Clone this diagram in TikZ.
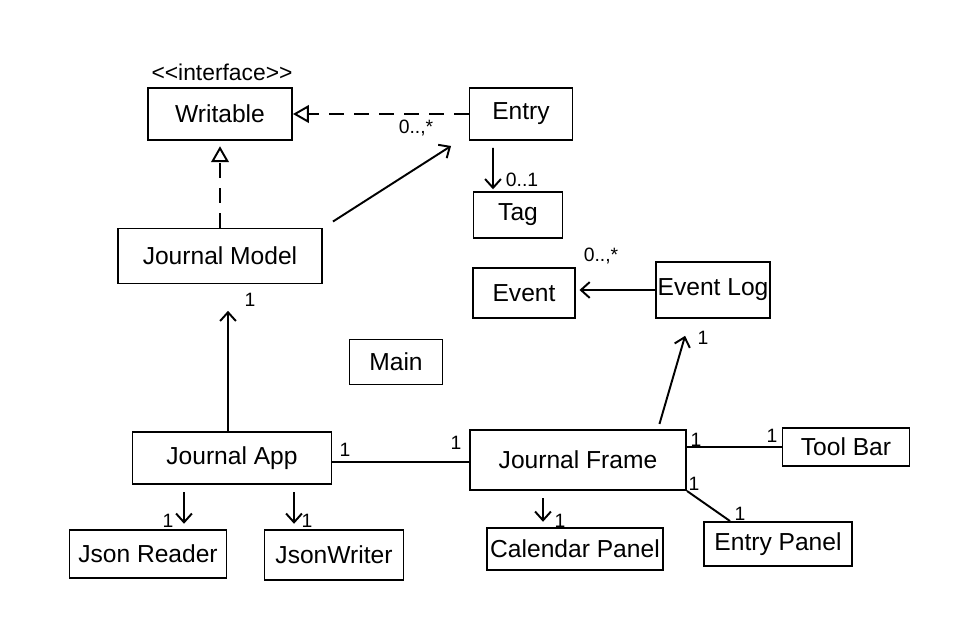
\documentclass[tikz,border=0pt]{standalone}
\usepackage{fontspec}
\setmainfont{Liberation Sans}
\usetikzlibrary{arrows.meta}
\tikzset{
	box/.style 2 args={draw, line width=1.1pt, inner sep=0pt,
		minimum width=#1*0.02cm, minimum height=#2*0.02cm,
		font=\fontsize{14}{17}\selectfont},
	assoc/.style={line width=1.1pt, -{Straight Barb[length=5pt,width=9pt]}},
	link/.style={line width=1.1pt},
	real/.style={line width=1.1pt, dash pattern=on 0.3cm off 0.2cm,
		-{Triangle[open,length=9pt,width=10pt]}},
	mult/.style={inner sep=0pt, font=\fontsize{11}{13}\selectfont}
}

\begin{document}
\begin{tikzpicture}[x=0.02cm,y=-0.02cm]
	\useasboundingbox[fill=white] (0,0) rectangle (963,619);
	% classes
	\node[box={144}{52}] (writable) at (220,114) {Writable};
	\node[inner sep=0pt, font=\fontsize{13}{15}\selectfont] (stereo) at (222,72) {<\kern0pt<interface>\kern0pt>};
	\node[box={103}{52}] (entry) at (521,114) {Entry};
	\node[box={89}{46}] (tag) at (518,215) {Tag};
	\node[box={204}{55}] (jmodel) at (220,256) {Journal Model};
	\node[box={102}{50}] (event) at (524,293) {Event};
	\node[box={114}{56}] (eventlog) at (713,290) {Event Log};
	\node[box={93}{45}] (main) at (396,362) {Main};
	\node[box={199}{52}] (japp) at (232,458) {Journal App};
	\node[box={216}{60}] (jframe) at (578,460) {Journal Frame};
	\node[box={127}{38}] (toolbar) at (846,447) {Tool Bar};
	\node[box={157}{48}] (jreader) at (148,554) {Json Reader};
	\node[box={139}{50}] (jwriter) at (334,555) {JsonWriter};
	\node[box={176}{42}] (calpanel) at (575,549) {Calendar Panel};
	\node[box={148}{44}] (entrypanel) at (778,544) {Entry Panel};
	% realization
	\draw[real] (entry.west) -- (writable.east);
	\draw[real, shorten >=3pt] (jmodel.north) -- (writable.south);
	% associations
	\draw[assoc] ([xshift=0.2cm,yshift=0.12cm]jmodel.north east) -- ([xshift=-0.35cm,yshift=-0.1cm]entry.south west);
	\draw[assoc, shorten <=4pt, shorten >=1pt] ([xshift=-0.56cm]entry.south) -- ([xshift=-0.5cm]tag.north);
	\draw[assoc, shorten >=2pt] (eventlog.west) -- (eventlog.west -| event.east);
	\draw[assoc, shorten <=3pt, shorten >=10pt] ([xshift=1.6cm]jframe.north) -- ([xshift=-0.46cm]eventlog.south);
	\draw[assoc, shorten >=15pt] ([xshift=-0.08cm]japp.north) -- ([xshift=0.16cm]jmodel.south);
	\draw[link] ([yshift=-0.08cm]japp.east) -- ([yshift=-0.08cm]japp.east -| jframe.west);
	\draw[link] (toolbar.west -| jframe.east) -- (toolbar.west);
	\draw[link] (jframe.south east) -- ([xshift=-0.96cm]entrypanel.north);
	\draw[assoc, shorten <=4pt, shorten >=3pt] ([xshift=-0.7cm]jframe.south) -- ([xshift=-0.64cm]calpanel.north);
	\draw[assoc, shorten <=4pt, shorten >=3pt] ([xshift=-0.96cm]japp.south) -- ([xshift=0.72cm]jreader.north);
	\draw[assoc, shorten <=4pt, shorten >=3pt] ([xshift=1.24cm]japp.south) -- ([xshift=-0.8cm]jwriter.north);
	% multiplicities
	\node[mult] (m-entry) at (416,128) {0..,*};
	\node[mult] (m-tag) at (522,180) {0..1};
	\node[mult] (m-event) at (601,256) {0..,*};
	\node[mult] (m-elog) at (703,338) {1};
	\node[mult] (m-jmodel) at (250,300) {1};
	\node[mult] (m-app1) at (345,450) {1};
	\node[mult] (m-frame1) at (456,443) {1};
	\node[mult] (m-frame2) at (696,440) {1};
	\node[mult] (m-tool) at (772,436) {1};
	\node[mult] (m-frame3) at (694,484) {1};
	\node[mult] (m-epanel) at (740,514) {1};
	\node[mult] (m-cal) at (560,521) {1};
	\node[mult] (m-reader) at (168,521) {1};
	\node[mult] (m-writer) at (307,521) {1};
\end{tikzpicture}
\end{document}
